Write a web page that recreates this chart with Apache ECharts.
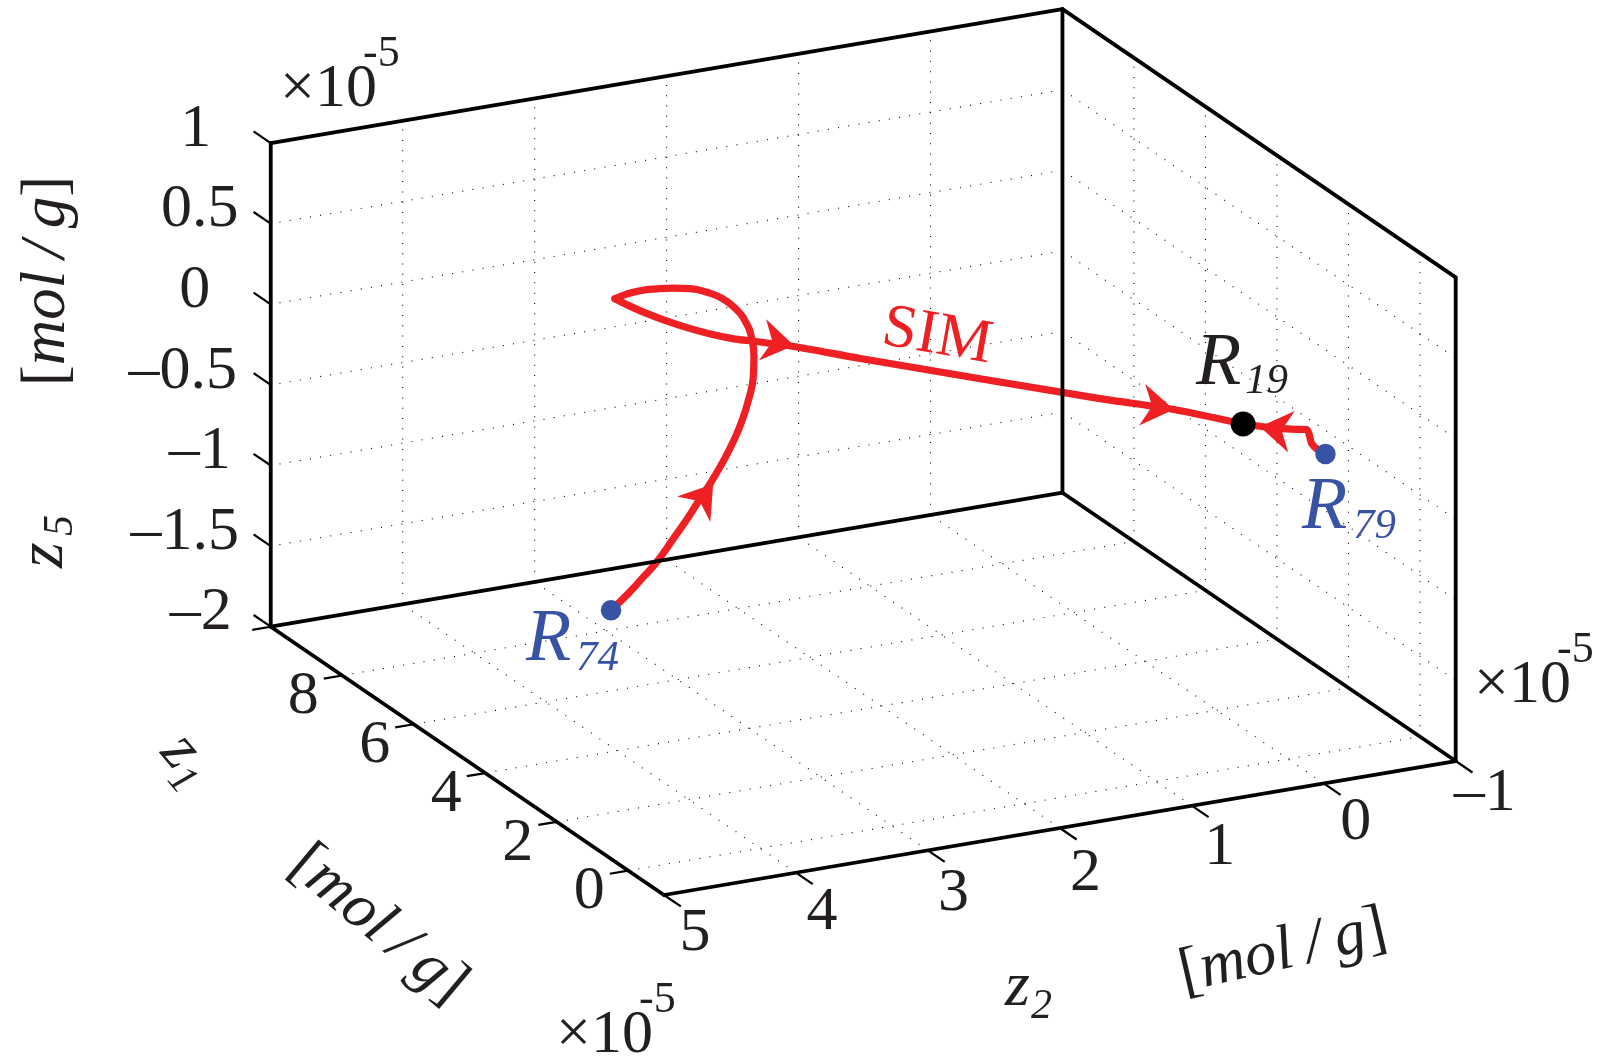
<!DOCTYPE html>
<html>
<head>
<meta charset="utf-8">
<style>html,body{margin:0;padding:0;background:#fff}#c{width:1606px;height:1061px}</style>
<script src="https://cdn.jsdelivr.net/npm/echarts@6/dist/echarts.min.js"></script>
</head>
<body>
<div id="c"></div>
<script>
// Axis ranges and ticks (all axes in units of 1e-5 mol/g)
const z1Range = [-1, 10];
const z2Range = [-1, 5];
const z5Range = [-2, 1];
const z1Ticks = [0, 2, 4, 6, 8];
const z1TickMarks = [0, 2, 4, 6, 8, 10];
const z2Ticks = [5, 4, 3, 2, 1, 0, -1];
const z5Ticks = [1, 0.5, 0, -0.5, -1, -1.5, -2];
const z2TickLabels = ['5', '4', '3', '2', '1', '0', '\u20131'];
const z1TickLabels = ['0', '2', '4', '6', '8'];
const z5TickLabels = ['1', '0.5', '0', '\u20130.5', '\u20131', '\u20131.5', '\u20132'];

// Trajectories. z2 and z5 are read off the picture; depth z1 cannot be read
// from a single projection, so it is an assumption that keeps each point in the box.
const r74Z1 = [8,8,8,8,8,8,8,8,8,8,8,8,8,8,8,8,8,8,8,8,8,8,8,8,8];
const r74Z2 = [2.963,2.831,2.717,2.615,2.489,2.375,2.286,2.210,2.109,2.032,1.969,1.918,1.885,1.880,1.900,1.943,2.020,2.121,2.235,2.362,2.489,2.615,2.742,2.844,2.933];
const r74Z5 = [-1.877,-1.791,-1.705,-1.625,-1.497,-1.379,-1.276,-1.194,-1.066,-0.952,-0.836,-0.708,-0.578,-0.454,-0.327,-0.230,-0.136,-0.060,-0.006,0.034,0.055,0.068,0.074,0.067,0.051];

const simZ1 = [8,8,8,8,8,8,8,8,8,6,2,1,0];
const simZ2 = [2.933,2.844,2.717,2.565,2.387,2.210,2.032,1.880,1.576,1.615,0.883,0.594,0.340];
const simZ5 = [0.051,0.002,-0.062,-0.131,-0.204,-0.268,-0.323,-0.359,-0.433,-0.200,0.055,0.099,0.125];

const r79Z1 = [0,0,0,0,0,0,0,0,0];
const r79Z2 = [-0.284,-0.231,-0.180,-0.162,-0.142,-0.066,0.061,0.188,0.340];
const r79Z5 = [-0.148,-0.118,-0.069,-0.014,0.024,0.036,0.059,0.087,0.125];

// Direction arrows: tip and tail of each arrowhead
const arrowTipZ1 = [8, 8, 1, 0];
const arrowTipZ2 = [2.189, 1.576, 0.594, 0.213];
const arrowTipZ5 = [-1.201, -0.427, 0.099, 0.090];
const arrowTailZ1 = [8, 8, 1, 0];
const arrowTailZ2 = [2.286, 1.728, 0.764, 0.048];
const arrowTailZ5 = [-1.291, -0.384, 0.143, 0.046];

// Named states
const pointNames = ['R74', 'R79', 'R19'];
const pointZ1 = [8, 0, 0];
const pointZ2 = [2.963, -0.284, 0.340];
const pointZ5 = [-1.877, -0.148, 0.125];

const RED = '#ee2024', BLUE = '#3953a4', INK = '#231f20';
const SERIF = 'Liberation Serif';

// Orthographic view of the box
function project(z1, z2, z5) {
  return [
    664 + 131.95 * (5 - z2) - 35.75 * (z1 + 1),
    895 - 22.33 * (5 - z2) - 24.39 * (z1 + 1) - 161.2 * (z5 + 2)
  ];
}

const series = [];
function addLine(points, style, z, extra) {
  series.push(Object.assign({
    type: 'line', data: points, showSymbol: false, silent: true, z: z,
    clip: false, animation: false, lineStyle: style
  }, extra || {}));
}

// Dotted grid on the two back walls and the floor
const dots = { color: '#000', width: 1.1, type: [1, 9.3], cap: 'butt' };
const [z1a, z1b] = z1Range, [z2a, z2b] = z2Range, [z5a, z5b] = z5Range;
z5Ticks.filter(v => v > z5a && v < z5b).forEach(v => {
  addLine([project(z1b, z2a, v), project(z1b, z2b, v)], dots, 1);
  addLine([project(z1b, z2a, v), project(z1a, z2a, v)], dots, 1);
});
z2Ticks.filter(v => v > z2a && v < z2b).forEach(v => {
  addLine([project(z1b, v, z5a), project(z1b, v, z5b)], dots, 1);
  addLine([project(z1a, v, z5a), project(z1b, v, z5a)], dots, 1);
});
z1Ticks.forEach(v => {
  addLine([project(v, z2a, z5a), project(v, z2a, z5b)], dots, 1);
  addLine([project(v, z2b, z5a), project(v, z2a, z5a)], dots, 1);
});

// Box edges
const edge = { color: '#000', width: 3.8, type: 'solid', cap: 'round' };
[
  [[z1b, z2b, z5a], [z1b, z2b, z5b]],
  [[z1b, z2b, z5b], [z1b, z2a, z5b]],
  [[z1b, z2a, z5b], [z1a, z2a, z5b]],
  [[z1a, z2a, z5b], [z1a, z2a, z5a]],
  [[z1b, z2a, z5b], [z1b, z2a, z5a]],
  [[z1b, z2b, z5a], [z1b, z2a, z5a]],
  [[z1b, z2a, z5a], [z1a, z2a, z5a]],
  [[z1b, z2b, z5a], [z1a, z2b, z5a]],
  [[z1a, z2b, z5a], [z1a, z2a, z5a]]
].forEach(([a, b]) => addLine([project(...a), project(...b)], edge, 6));

// Tick marks
const tick = { color: '#000', width: 2.2, type: 'solid' };
z5Ticks.forEach(v => addLine([project(z1b, z2b, v), project(z1b + 0.48, z2b, v)], tick, 6));
z1TickMarks.forEach(v => addLine([project(v, z2b, z5a), project(v, z2b + 0.14, z5a)], tick, 6));
z2Ticks.forEach(v => addLine([project(z1a, v, z5a), project(z1a - 0.47, v, z5a)], tick, 6));

// Trajectories
const traj = { color: RED, width: 7.2, type: 'solid', cap: 'round', join: 'round' };
function path(a, b, c) { return a.map((v, i) => project(v, b[i], c[i])); }
addLine(path(r74Z1, r74Z2, r74Z5), traj, 4, { smooth: 0.5 });
addLine(path(simZ1, simZ2, simZ5), traj, 4, { smooth: 0.25 });
addLine(path(r79Z1, r79Z2, r79Z5), traj, 4, { smooth: 0.25 });

// Arrowheads
series.push({
  type: 'custom', z: 7, silent: true, clip: false, animation: false,
  data: arrowTipZ1.map((v, i) => [
    ...project(v, arrowTipZ2[i], arrowTipZ5[i]),
    ...project(arrowTailZ1[i], arrowTailZ2[i], arrowTailZ5[i])
  ]),
  encode: { x: [0, 2], y: [1, 3] },
  renderItem(params, api) {
    const t = api.coord([api.value(0), api.value(1)]);
    const b = api.coord([api.value(2), api.value(3)]);
    const a = Math.atan2(t[1] - b[1], t[0] - b[0]);
    const c = Math.cos(a), s = Math.sin(a);
    const at = (u, v) => [t[0] + u * c - v * s, t[1] + u * s + v * c];
    return { type: 'polygon', shape: { points: [at(0, 0), at(-32, -21), at(-22, 0), at(-32, 21)] }, style: { fill: RED } };
  }
});

// State points
const pointColors = [BLUE, BLUE, '#000'];
const pointSizes = [20.5, 20.5, 25];
series.push({
  type: 'scatter', z: 8, silent: true, animation: false, clip: false,
  data: pointNames.map((n, i) => ({
    name: n, value: project(pointZ1[i], pointZ2[i], pointZ5[i]),
    symbolSize: pointSizes[i], itemStyle: { color: pointColors[i], opacity: 1 }
  }))
});

// Tick labels, anchored to the ticks
function labelSeries(items) {
  series.push({
    type: 'custom', z: 9, silent: true, animation: false, clip: false,
    data: items.map(it => it.p),
    encode: { x: 0, y: 1 },
    renderItem(params, api) {
      const p = api.coord([api.value(0), api.value(1)]);
      const it = items[params.dataIndex];
      return {
        type: 'text', x: p[0] + it.o[0], y: p[1] + it.o[1],
        style: { text: it.t, font: '62px "' + SERIF + '"', fill: INK, align: 'center', verticalAlign: 'middle' }
      };
    }
  });
}
const z5Offsets = [[-75, -13.5], [-71, -13.5], [-76, -13.5], [-88, -13.5], [-71, -13.5], [-86, -13.5], [-70, -13.5]];
labelSeries(z5Ticks.map((v, i) => ({ p: project(z1b, z2b, v), t: z5TickLabels[i], o: z5Offsets[i] })));
labelSeries(z1Ticks.map((v, i) => ({ p: project(v, z2b, z5a), t: z1TickLabels[i], o: [-39, 21.5] })));
const z2Offsets = [[31, 38.5], [26, 40.5], [25.5, 43.5], [25.7, 45.5], [28, 42.5], [32, 39], [29, 33]];
labelSeries(z2Ticks.map((v, i) => ({ p: project(z1a, v, z5a), t: z2TickLabels[i], o: z2Offsets[i] })));

// Free text: x, y is the alphabetic baseline at the start of the run
function txt(s, x, y, size, color, opt) {
  opt = opt || {};
  return {
    type: 'text', z: 100, silent: true,
    x: x, y: y, rotation: (opt.rot || 0) * Math.PI / 180,
    style: {
      text: s, x: 0, y: -0.27 * size, align: opt.align || 'left', verticalAlign: 'middle',
      font: (opt.italic ? 'italic ' : '') + size + 'px "' + SERIF + '"', fill: color
    }
  };
}
function exponent(x, y) {
  return [txt('\u00d710', x, y, 62, INK), txt('-5', x + 83, y - 39.5, 44, INK)];
}
function molPerGram(cx, cy, rot) {
  const s = 63;
  return {
    type: 'text', z: 100, silent: true, x: cx, y: cy, rotation: rot * Math.PI / 180,
    style: {
      text: '{n|[}{i|mol}{n|\u2009}{i|/}{n|\u2009}{i|g}{n|]}',
      align: 'center', verticalAlign: 'middle', fill: INK,
      rich: {
        n: { font: s + 'px "' + SERIF + '"', fill: INK },
        i: { font: 'italic ' + s + 'px "' + SERIF + '"', fill: INK }
      }
    }
  };
}
const graphics = [].concat(
  exponent(280, 106),
  exponent(556, 1052),
  exponent(1474, 702),
  [
    molPerGram(47, 281, 90),
    molPerGram(378, 925, -40),
    molPerGram(1283, 952, 13),
    txt('z', 62, 568, 66, INK, { italic: true, rot: 90 }),
    txt('5', 72, 536, 42, INK, { italic: true, rot: 90 }),
    txt('z', 159, 753, 64, INK, { italic: true, rot: -50 }),
    txt('1', 166, 780, 42, INK, { italic: true, rot: -50 }),
    txt('z', 1005, 1005, 64, INK, { italic: true }),
    txt('2', 1031, 1018, 42, INK, { italic: true }),
    txt('SIM', 880, 344, 62, RED, { rot: -10 }),
    txt('R', 1196, 385, 74, INK, { italic: true }),
    txt('19', 1245, 393, 43, INK, { italic: true }),
    txt('R', 1302, 529, 74, BLUE, { italic: true }),
    txt('79', 1353, 538, 43, BLUE, { italic: true }),
    txt('R', 526, 661, 74, BLUE, { italic: true }),
    txt('74', 576, 670, 43, BLUE, { italic: true })
  ]
);

const chart = echarts.init(document.getElementById('c'), null, { renderer: 'canvas' });
chart.setOption({
  animation: false,
  backgroundColor: '#fff',
  grid: { left: 0, right: 0, top: 0, bottom: 0 },
  xAxis: { type: 'value', min: 0, max: 1606, show: false },
  yAxis: { type: 'value', min: 0, max: 1061, inverse: true, show: false },
  series: series,
  graphic: graphics
});
</script>
</body>
</html>
